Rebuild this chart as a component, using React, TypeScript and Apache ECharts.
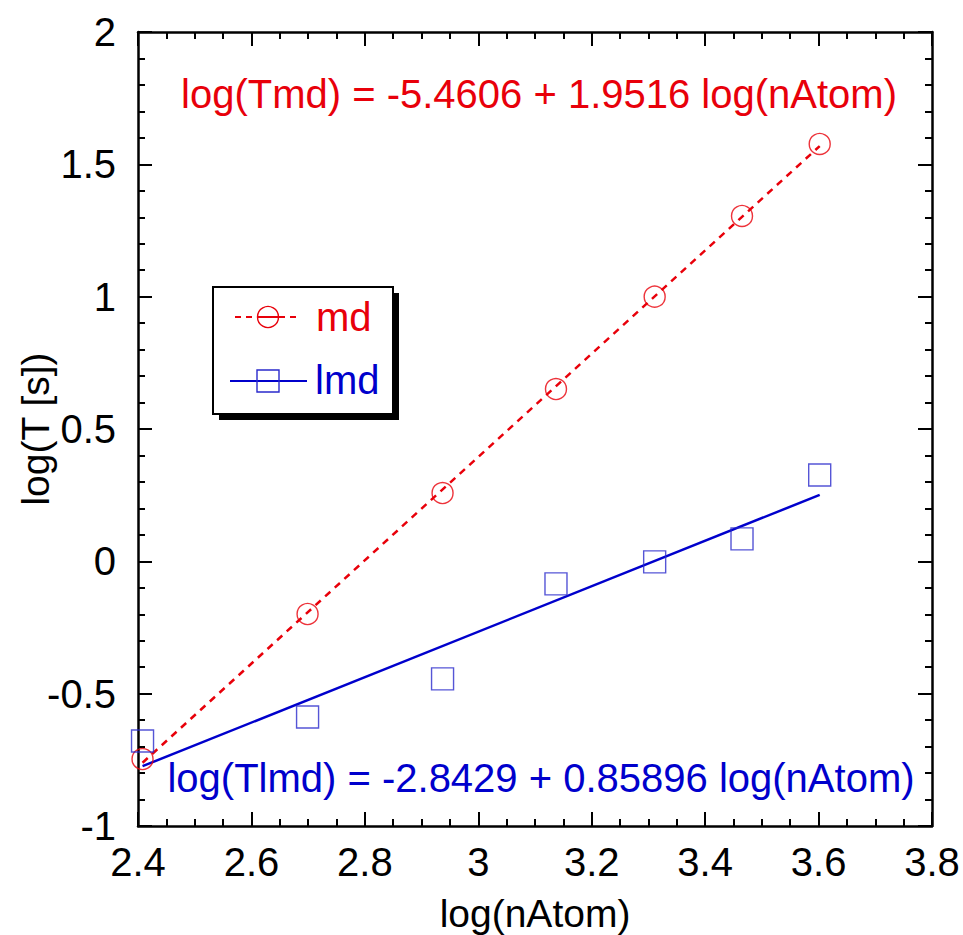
import React, { useEffect, useRef } from "react";
import * as echarts from "echarts";

// log10 of the atom counts
const logNAtom = [2.408, 2.699, 2.937, 3.137, 3.311, 3.465, 3.602];
// measured log10 times
const mdLogT = [-0.747, -0.199, 0.258, 0.651, 1.0, 1.305, 1.577];
const lmdLogT = [-0.679, -0.588, -0.444, -0.085, -0.002, 0.085, 0.326];
// fitted line end points
const fitX = [2.408, 3.602];
const mdFitY = [-0.761, 1.569];
const lmdFitY = [-0.774, 0.251];

const mdLabel = "log(Tmd) = -5.4606 + 1.9516 log(nAtom)";
const lmdLabel = "log(Tlmd) = -2.8429 + 0.85896 log(nAtom)";

const RED = "#e8000a";
const BLUE = "#0000cc";
const FONT = "'Liberation Sans', Arial, Helvetica, sans-serif";

export default function App() {
  const ref = useRef<HTMLDivElement>(null);
  useEffect(() => {
    if (!ref.current) return;
    const chart = echarts.init(ref.current, null, { renderer: "svg" });
    const frame = { show: true, onZero: false, lineStyle: { color: "#000", width: 2.5 } };
    const tick = { show: true, inside: true, length: 14, lineStyle: { color: "#000", width: 2 } };
    const xMinor = { show: true, splitNumber: 4, length: 7, lineStyle: { color: "#000", width: 2 } };
    const yMinor = { show: true, splitNumber: 5, length: 7, lineStyle: { color: "#000", width: 2 } };
    const xBase = { type: "value", min: 2.4, max: 3.8, interval: 0.2, splitLine: { show: false }, axisLine: frame, axisTick: tick, minorTick: xMinor };
    const yBase = { type: "value", min: -1, max: 2, interval: 0.5, splitLine: { show: false }, axisLine: frame, axisTick: tick, minorTick: yMinor };
    chart.setOption({
      animation: false,
      backgroundColor: "#fff",
      grid: { left: 138, top: 32, width: 794, height: 794, containLabel: false, outerBoundsMode: "none" },
      xAxis: [
        {
          ...xBase,
          position: "bottom",
          name: "log(nAtom)",
          nameLocation: "middle",
          nameGap: 67,
          nameMoveOverlap: false,
          nameTextStyle: { fontSize: 39, color: "#000", fontFamily: FONT, lineHeight: 40 },
          axisLabel: { fontSize: 40, color: "#000", fontFamily: FONT, margin: 16 },
        },
        { ...xBase, position: "top", axisLabel: { show: false } },
      ],
      yAxis: [
        {
          ...yBase,
          position: "left",
          name: "log(T [s])",
          nameLocation: "middle",
          nameGap: 83,
          nameMoveOverlap: false,
          nameTextStyle: { fontSize: 39, color: "#000", fontFamily: FONT, lineHeight: 40 },
          axisLabel: { fontSize: 40, color: "#000", fontFamily: FONT, margin: 22, padding: [-12, 0, 0, 0] },
        },
        { ...yBase, position: "right", axisLabel: { show: false } },
      ],
      series: [
        {
          type: "line",
          name: "md fit",
          data: fitX.map((x, i) => [x, mdFitY[i]]),
          symbol: "none",
          lineStyle: { color: RED, width: 2.5, type: [7, 6] },
          z: 2,
        },
        {
          type: "line",
          name: "lmd fit",
          data: fitX.map((x, i) => [x, lmdFitY[i]]),
          symbol: "none",
          lineStyle: { color: BLUE, width: 2.5 },
          z: 2,
        },
        {
          type: "scatter",
          name: "md",
          data: logNAtom.map((x, i) => [x, mdLogT[i]]),
          symbol: "circle",
          symbolSize: 21,
          clip: false,
          itemStyle: { color: "rgba(0,0,0,0)", borderColor: RED, borderWidth: 1.4 },
          z: 3,
        },
        {
          type: "scatter",
          name: "lmd",
          data: logNAtom.map((x, i) => [x, lmdLogT[i]]),
          symbol: "rect",
          symbolSize: 22,
          clip: false,
          itemStyle: { color: "rgba(0,0,0,0)", borderColor: "#2a2acc", borderWidth: 1.4 },
          z: 3,
        },
      ],
      graphic: [
        { type: "text", style: { x: 539, y: 94, text: mdLabel, fill: RED, fontSize: 40, fontFamily: FONT, align: "center", verticalAlign: "middle" } },
        { type: "text", style: { x: 541, y: 778, text: lmdLabel, fill: BLUE, fontSize: 40, fontFamily: FONT, align: "center", verticalAlign: "middle" } },
        // legend box with shadow
        { type: "rect", shape: { x: 219, y: 293, width: 180, height: 127 }, style: { fill: "#000" }, z: 10 },
        { type: "rect", shape: { x: 213, y: 287, width: 180, height: 127 }, style: { fill: "#fff", stroke: "#000", lineWidth: 2 }, z: 11 },
        { type: "line", shape: { x1: 235, y1: 317, x2: 300, y2: 317 }, style: { stroke: RED, lineWidth: 2, lineDash: [6, 5] }, z: 12 },
        { type: "circle", shape: { cx: 268, cy: 317, r: 10.5 }, style: { fill: "#fff", stroke: RED, lineWidth: 1.4 }, z: 13 },
        { type: "line", shape: { x1: 258, y1: 317, x2: 278, y2: 317 }, style: { stroke: RED, lineWidth: 2 }, z: 14 },
        { type: "text", style: { x: 316, y: 317, text: "md", fill: RED, fontSize: 40, fontFamily: FONT, align: "left", verticalAlign: "middle" }, z: 13 },
        { type: "line", shape: { x1: 230, y1: 381, x2: 307, y2: 381 }, style: { stroke: BLUE, lineWidth: 2 }, z: 12 },
        { type: "rect", shape: { x: 257, y: 370, width: 22, height: 22 }, style: { fill: "none", stroke: "#2a2acc", lineWidth: 1.4 }, z: 13 },
        { type: "text", style: { x: 315, y: 380, text: "lmd", fill: BLUE, fontSize: 40, fontFamily: FONT, align: "left", verticalAlign: "middle" }, z: 13 },
      ],
    });
    return () => chart.dispose();
  }, []);
  return <div ref={ref} style={{ position: "fixed", left: 0, top: 0, width: 963, height: 935 }} />;
}
